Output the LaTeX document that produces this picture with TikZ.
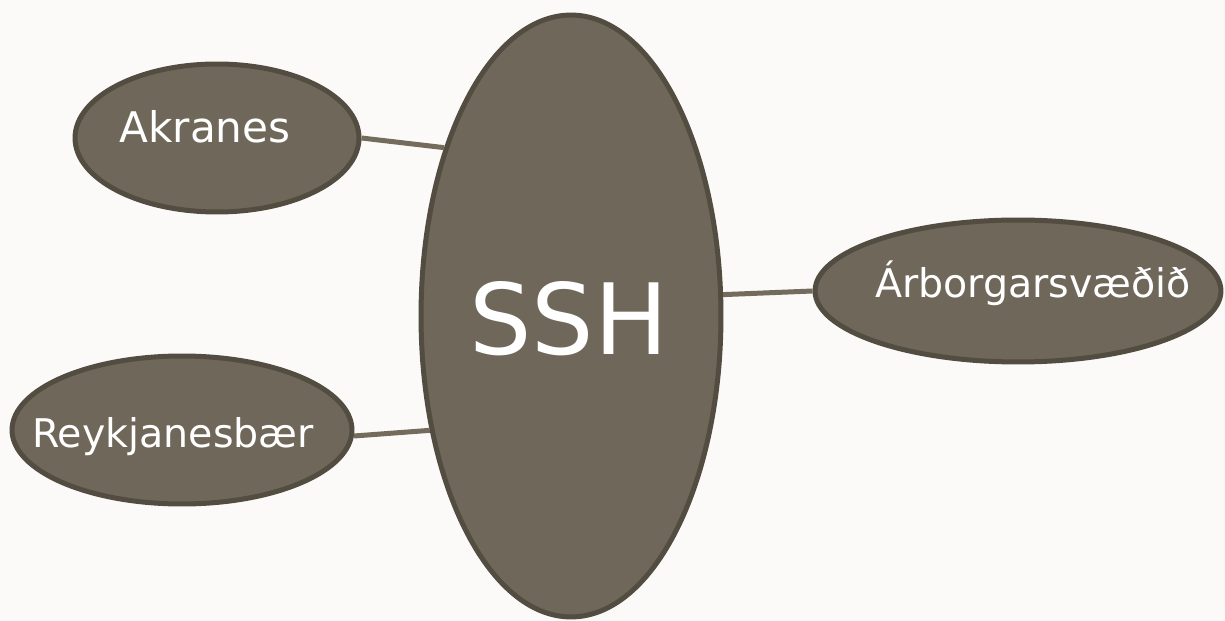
\documentclass[tikz,border=0pt]{standalone}
\usepackage{fontspec}
\setmainfont{DejaVu Sans}
\usetikzlibrary{shapes}
\definecolor{paper}{HTML}{FBFAF8}
\definecolor{townfill}{HTML}{6F6759}
\definecolor{townedge}{HTML}{524C41}
\definecolor{townline}{HTML}{736C5D}
% shift, baseline, text
\newcommand{\townlabel}[3]{\raisebox{#2}[0pt][0pt]{\makebox[0pt]{\hspace*{#1}#3}}}

\begin{document}
\begin{tikzpicture}[x=0.02cm,y=-0.02cm]
\tikzstyle{town}=[ellipse,draw=townedge,fill=townfill,line width=0.1cm,inner sep=0pt,text=white,font=\fontsize{22.5}{27}\selectfont]
\tikzstyle{link}=[draw=townline,line width=0.1cm]
\fill[paper] (0,0) rectangle (1225,621);
\useasboundingbox (0,0) rectangle (1225,621);

\node[town,minimum width=6cm,minimum height=12.04cm,font=\fontsize{56}{60}\selectfont](SSH) at (571,316) {\townlabel{-0.1cm}{-0.78cm}{SSH}};
\node[town,minimum width=5.68cm,minimum height=2.96cm,font=\fontsize{24}{28}\selectfont](Akranes) at (217,138) {\townlabel{-0.48cm}{-0.1cm}{Akranes}};
\node[town,minimum width=6.8cm,minimum height=2.96cm](Reykjanes) at (182,430) {\townlabel{-0.36cm}{-0.36cm}{Reykjanesbær}};
\node[town,minimum width=8.12cm,minimum height=2.84cm](Arborg) at (1018,291) {\townlabel{0.6cm}{-0.14cm}{Árborgarsvæðið}};

\draw[link] (Akranes.east) -- (SSH.127);
\draw[link] (Reykjanes.-2) -- (SSH.219);
\draw[link] (Arborg.west) -- (SSH.8);
\end{tikzpicture}
\end{document}
